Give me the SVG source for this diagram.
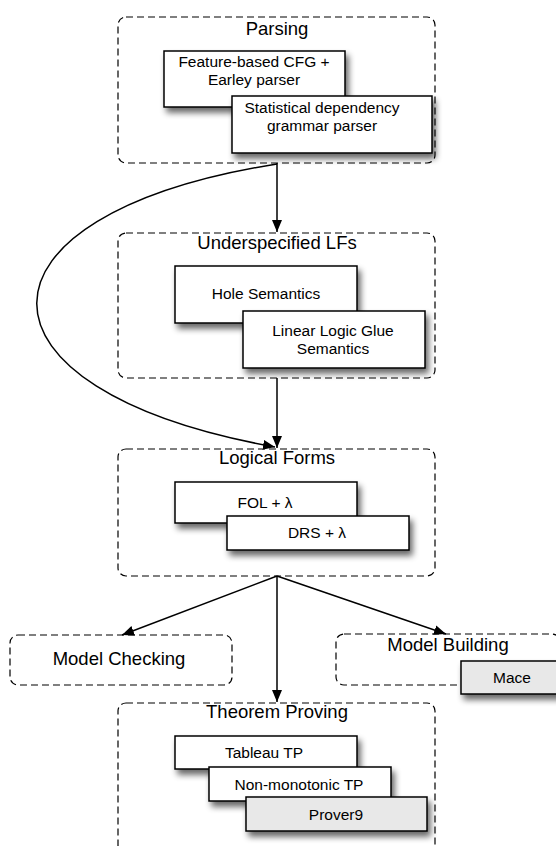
<svg xmlns="http://www.w3.org/2000/svg" width="556" height="846" viewBox="0 0 556 846">
<defs>
<filter id="sh" x="-20%" y="-30%" width="150%" height="180%">
<feGaussianBlur in="SourceAlpha" stdDeviation="3"/>
<feOffset dx="3" dy="5" result="b"/>
<feComponentTransfer><feFuncA type="linear" slope="0.6"/></feComponentTransfer>
<feMerge><feMergeNode/><feMergeNode in="SourceGraphic"/></feMerge>
</filter>
<marker id="ah" viewBox="0 0 12 10" refX="12" refY="5" markerWidth="12" markerHeight="10" markerUnits="userSpaceOnUse" orient="auto">
<path d="M0,0 L12,5 L0,10 z" fill="#000"/>
</marker>
</defs>
<style>
.grp{fill:none;stroke:#000;stroke-width:1.2;stroke-dasharray:7,4}
.box{fill:#fff;stroke:#000;stroke-width:1.5}
.gbox{fill:#e8e8e8;stroke:#000;stroke-width:1.5}
.t{font-family:"Liberation Sans",Arial,sans-serif;font-size:18.5px;fill:#000;text-anchor:middle}
.s{font-family:"Liberation Sans",Arial,sans-serif;font-size:15.5px;fill:#000;text-anchor:middle}
.c{fill:none;stroke:#000;stroke-width:1.5}
</style>

<g id="parsing">
<rect class="grp" x="118" y="17" width="317" height="146" rx="8"/>
<text class="t" x="277" y="35">Parsing</text>
<g id="cfg">
<rect class="box" x="164" y="51" width="181" height="56" filter="url(#sh)"/>
<text class="s" x="254" y="67">Feature-based CFG +</text>
<text class="s" x="254" y="85">Earley parser</text>
</g>
<g id="dep">
<rect class="box" x="232" y="96" width="200" height="57" filter="url(#sh)"/>
<text class="s" x="322" y="113">Statistical dependency</text>
<text class="s" x="322" y="131">grammar parser</text>
</g>
</g>

<g id="underspecified">
<rect class="grp" x="118" y="233" width="317" height="145" rx="8"/>
<text class="t" x="277" y="249">Underspecified LFs</text>
<g id="hole">
<rect class="box" x="175" y="266" width="182" height="57" filter="url(#sh)"/>
<text class="s" x="266" y="299">Hole Semantics</text>
</g>
<g id="glue">
<rect class="box" x="243" y="311" width="182" height="57" filter="url(#sh)"/>
<text class="s" x="333" y="336">Linear Logic Glue</text>
<text class="s" x="333" y="354">Semantics</text>
</g>
</g>

<g id="logical">
<rect class="grp" x="118" y="449" width="317" height="127" rx="8"/>
<text class="t" x="277" y="464">Logical Forms</text>
<g id="fol">
<rect class="box" x="175" y="482" width="182" height="41" filter="url(#sh)"/>
<text class="s" x="265" y="508">FOL + λ</text>
</g>
<g id="drs">
<rect class="box" x="227" y="516" width="182" height="34" filter="url(#sh)"/>
<text class="s" x="317" y="538">DRS + λ</text>
</g>
</g>

<g id="checking">
<rect class="grp" x="10" y="635" width="222" height="50" rx="8"/>
<text class="t" x="119" y="665">Model Checking</text>
</g>

<g id="building">
<rect class="grp" x="336" y="634" width="224" height="51" rx="8"/>
<text class="t" x="448" y="651">Model Building</text>
<g id="mace">
<rect class="gbox" x="461" y="661" width="102" height="33" filter="url(#sh)"/>
<text class="s" x="512" y="683">Mace</text>
</g>
</g>

<g id="theorem">
<rect class="grp" x="118" y="703" width="317" height="160" rx="8"/>
<text class="t" x="277" y="718">Theorem Proving</text>
<g id="tableau">
<rect class="box" x="175" y="736" width="182" height="33" filter="url(#sh)"/>
<text class="s" x="264" y="758">Tableau TP</text>
</g>
<g id="nonmono">
<rect class="box" x="209" y="767" width="182" height="34" filter="url(#sh)"/>
<text class="s" x="299" y="790">Non-monotonic TP</text>
</g>
<g id="prover9">
<rect class="gbox" x="246" y="797" width="181" height="34" filter="url(#sh)"/>
<text class="s" x="336" y="820">Prover9</text>
</g>
</g>

<g id="connectors">
<path class="c" d="M277,163 L277,232" marker-end="url(#ah)"/>
<path class="c" d="M277,378 L277,448" marker-end="url(#ah)"/>
<path class="c" d="M277,164 C-43,215 -43,390 275,447" marker-end="url(#ah)"/>
<path class="c" d="M277,576 L122,635" marker-end="url(#ah)"/>
<path class="c" d="M277,576 L446,634" marker-end="url(#ah)"/>
<path class="c" d="M277,576 L277,702" marker-end="url(#ah)"/>
</g>
</svg>
